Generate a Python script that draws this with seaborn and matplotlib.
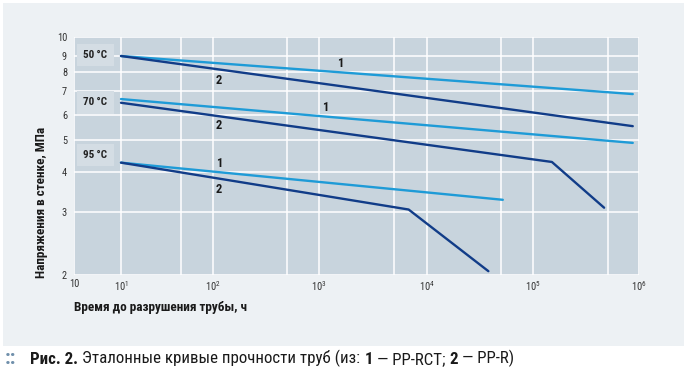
import numpy as np
import pandas as pd
import matplotlib
matplotlib.use("Agg")
import matplotlib.pyplot as plt
import seaborn as sns
from matplotlib import font_manager as fm
from matplotlib.patches import Rectangle

# ---------------- data ----------------
hours_50_1 = [10, 870000]
mpa_50_1 = [9.0, 6.86]
hours_50_2 = [10, 870000]
mpa_50_2 = [9.0, 5.52]
hours_70_1 = [10, 870000]
mpa_70_1 = [6.64, 4.90]
hours_70_2 = [10, 150000, 460000]
mpa_70_2 = [6.48, 4.29, 3.10]
hours_95_1 = [10, 52000]
mpa_95_1 = [4.27, 3.28]
hours_95_2 = [10, 6800, 38000]
mpa_95_2 = [4.27, 3.06, 2.05]

temperatures = ["50\u2009°C", "70\u2009°C", "95\u2009°C"]
x_ticks = [1, 10, 100, 1e3, 1e4, 1e5, 1e6]
x_tick_labels = ["10", "$10^1$", "$10^2$", "$10^3$", "$10^4$", "$10^5$", "$10^6$"]
x_minor = [50, 500, 5e3, 5e4, 5e5]
y_ticks = [2, 3, 4, 5, 6, 7, 8, 9, 10]
y_tick_labels = ["2", "3", "4", "5", "6", "7", "8", "9", "10"]

# ---------------- fonts ----------------
names = {f.name for f in fm.fontManager.ttflist}
cond = None
for cand in ["Roboto Condensed", "Liberation Sans Narrow", "Open Sans Condensed",
             "Noto Sans Condensed", "DejaVu Sans Condensed"]:
    if cand in names:
        cond = cand
        break
if cond is None:
    cond = "DejaVu Sans"
    k = 0.85
else:
    k = 1.0

sns.set_style("white")
plt.rcParams["font.family"] = [cond, "DejaVu Sans"]
plt.rcParams["mathtext.fontset"] = "custom"
plt.rcParams["mathtext.rm"] = cond
plt.rcParams["mathtext.it"] = cond

# ------------- axis geometry (piecewise log scale as in the original) -------------
def make_pw(knot_vals, knot_pos):
    lk = np.log10(np.asarray(knot_vals, float))
    kp = np.asarray(knot_pos, float)
    s0 = (kp[1] - kp[0]) / (lk[1] - lk[0])
    s1 = (kp[-1] - kp[-2]) / (lk[-1] - lk[-2])

    def fwd(v):
        v = np.asarray(v, float)
        with np.errstate(all="ignore"):
            l = np.log10(np.where(v > 0, v, 1e-300))
        out = np.interp(l, lk, kp)
        out = np.where(l < lk[0], kp[0] + (l - lk[0]) * s0, out)
        out = np.where(l > lk[-1], kp[-1] + (l - lk[-1]) * s1, out)
        return out

    def inv(p):
        p = np.asarray(p, float)
        l = np.interp(p, kp, lk)
        l = np.where(p < kp[0], lk[0] + (p - kp[0]) / s0, l)
        l = np.where(p > kp[-1], lk[-1] + (p - kp[-1]) / s1, l)
        return 10 ** l

    return fwd, inv

x_fwd, x_inv = make_pw([1, 10, 50, 100, 500, 1e3, 5e3, 1e4, 5e4, 1e5, 5e5, 1e6],
                       [0, 47, 107, 139, 213, 245, 320, 353, 427, 459, 534, 565])
y_fwd, y_inv = make_pw([2, 3, 4, 5, 6, 7, 8, 9, 10],
                       [0, 62.7, 103, 135, 160.5, 184, 203.5, 219, 237.7])

# ---------------- figure ----------------
W, H = 684, 378
fig = plt.figure(figsize=(W / 100, H / 100), dpi=100, facecolor="white")
fig.add_artist(Rectangle((3 / W, 1 - 346 / H), 1 - 3 / W, (346 - 3) / H,
                         transform=fig.transFigure, facecolor="#edf1f4",
                         edgecolor="none", zorder=0))

L, R, T, B = 74, 639, 37.3, 275
ax = fig.add_axes([L / W, 1 - B / H, (R - L) / W, (B - T) / H])
ax.set_facecolor("#c8d4dd")
ax.set_xscale("function", functions=(x_fwd, x_inv))
ax.set_yscale("function", functions=(y_fwd, y_inv))

light = "#1e9bd7"
dark = "#113c88"
series = [
    (hours_50_1, mpa_50_1, light), (hours_50_2, mpa_50_2, dark),
    (hours_70_1, mpa_70_1, light), (hours_70_2, mpa_70_2, dark),
    (hours_95_1, mpa_95_1, light), (hours_95_2, mpa_95_2, dark),
]
for xs, ys, c in series:
    df = pd.DataFrame({"h": xs, "p": ys})
    sns.lineplot(data=df, x="h", y="p", color=c, lw=1.7, sort=False,
                 estimator=None, ax=ax, zorder=3)

ax.set_xlim(1, 1e6)
ax.set_ylim(2, 10)
ax.set_xticks(x_ticks, x_tick_labels)
ax.set_xticks(x_minor, minor=True)
ax.set_yticks(y_ticks, y_tick_labels)
ax.set_yticks([], minor=True)
ax.grid(which="both", color="white", lw=1.1, zorder=1)
ax.set_axisbelow(True)
for s in ax.spines.values():
    s.set_visible(False)
ax.tick_params(axis="both", which="both", length=0, labelcolor="#333333",
               labelsize=7.5 * k)
ax.tick_params(axis="x", pad=3)
ax.tick_params(axis="y", pad=5)
ax.set_xlabel("")
ax.set_ylabel("")

# temperature boxes
for t, yf in zip(temperatures, [0.925, 0.726, 0.505]):
    ax.text(0.038, yf, t, transform=ax.transAxes, ha="center", va="center",
            fontsize=8 * k, fontweight="bold", color="#222222", zorder=4,
            bbox=dict(boxstyle="square,pad=0.55", fc="#d4dde4", ec="none"))

# curve numbers
for txt, xf, yf in [("1", 0.472, 0.888), ("2", 0.257, 0.820),
                    ("1", 0.445, 0.706), ("2", 0.257, 0.627),
                    ("1", 0.257, 0.467), ("2", 0.257, 0.361)]:
    ax.text(xf, yf, txt, transform=ax.transAxes, ha="center", va="center",
            fontsize=9 * k, fontweight="bold", color="#1a1a1a", zorder=4)

# axis titles
fig.text(L / W, 1 - 308 / H, "Время до разрушения трубы, ч", ha="left",
         va="center", fontsize=9.5 * k, fontweight="bold", color="#1a1a1a")
fig.text(42 / W, 1 - 202 / H, "Напряжения в стенке, МПа", ha="center",
         va="center", rotation=90, fontsize=9.5 * k, fontweight="bold",
         color="#1a1a1a")

# caption
cy = 1 - 364 / H
fig.text(5 / W, cy, "::", ha="left", va="baseline", fontsize=15 * k,
         fontweight="bold", color="#6f8fab")
parts = [("Рис. 2.", "bold", 0), ("Эталонные кривые прочности труб (из:", "normal", 3),
         ("1", "bold", 3), ("— PP-RCT;", "normal", 3), ("2", "bold", 3),
         ("— PP-R)", "normal", 3)]
prev = fig.text(30 / W, cy, parts[0][0], ha="left", va="baseline",
                fontsize=12.2 * k, fontweight=parts[0][1], color="#1a1a1a")
for txt, wgt, gap in parts[1:]:
    prev = ax.annotate(
        txt, xy=(1, 0), xycoords=prev, xytext=(gap, 0),
        textcoords="offset points", ha="left", va="bottom",
        fontsize=12.2 * k, fontweight=wgt, color="#1a1a1a", annotation_clip=False)

fig.savefig("out.png", dpi=100, facecolor=fig.get_facecolor())
